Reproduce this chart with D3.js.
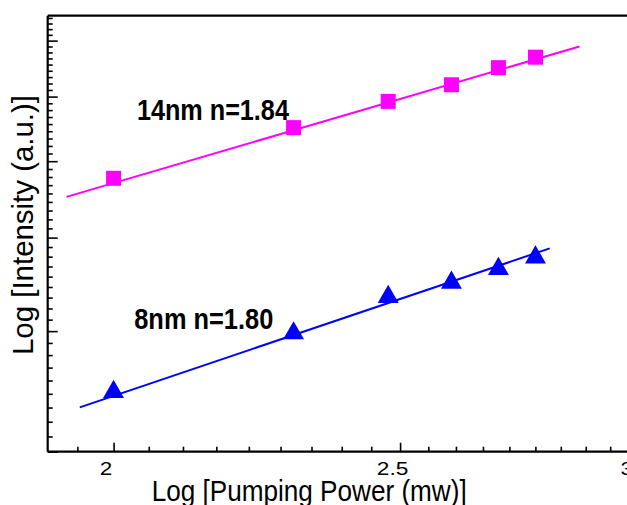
<!DOCTYPE html>
<html>
<head>
<meta charset="utf-8">
<script src="https://cdn.jsdelivr.net/npm/d3@7"></script>
<style>
  html, body { margin: 0; padding: 0; background: #fff; overflow: hidden; }
  svg { display: block; }
  text { font-family: Arial, "Liberation Sans", Helvetica, sans-serif; fill: #000; }
</style>
</head>
<body>
<svg id="chart" width="627" height="505"></svg>
<script>
// ---- data ----
const powerLog = [2.000, 2.301, 2.477, 2.602, 2.699, 2.778];   // log10 of 100..600 mW
const intensity14nm = [5.76, 6.50, 6.92, 7.20, 7.50, 7.69];
const intensity8nm  = [3.46, 3.98, 4.34, 4.49, 4.64, 4.77];
const fitX14 = [1.928, 2.875];
const fitY14 = [5.51, 7.89];
const fitX8  = [1.948, 2.809];
const fitY8  = [3.335, 4.873];
const xMajorTicks = [2, 2.5, 3];
const xTickLabels = ["2", "2.5", "3"];
const yMajorTicks = [3, 4, 5, 6, 7, 8];
const labels = ["14nm n=1.84", "8nm n=1.80"];
const labelPosX = [2.0367, 2.0325];
const labelPosY = [6.62, 4.017];

(function () {
// ---- scales ----
const svg = d3.select("#chart");
const mLeft = 47.7, mRight = 634.2, mTop = 15.7, mBottom = 451.7;
const x = d3.scaleLog().domain([1.9, 3]).range([mLeft, mRight]);
const y = d3.scaleLog().domain([3, 8.49]).range([mBottom, mTop]);

// minor ticks: 8 between majors (9 intervals)
function minors(majors, step, lo, hi) {
  const out = [];
  const first = majors[0] - step * 9, last = majors[majors.length - 1] + step * 9;
  for (let k = 0; first + k * step <= last + 1e-9; k++) {
    const r = Math.round((first + k * step) * 1e6) / 1e6;
    if (r >= lo && r <= hi && !majors.some(m => Math.abs(m - r) < 1e-6)) out.push(r);
  }
  return out;
}
const xMinor = minors(xMajorTicks, 0.5 / 9, 1.9, 3.0);
const yMinor = minors(yMajorTicks, 1 / 9, 3, 8.49);

// ---- axes ----
const gx = svg.append("g").attr("transform", `translate(0,${mBottom})`);
gx.append("g").call(d3.axisBottom(x).tickValues(xMinor).tickSize(-5).tickSizeOuter(0).tickFormat(""))
  .call(g => g.select(".domain").remove());
const gxMaj = gx.append("g").call(d3.axisBottom(x).tickValues(xMajorTicks).tickSize(-9).tickSizeOuter(0)
  .tickFormat((d, i) => xTickLabels[i]));
gxMaj.select(".domain").remove();
gx.selectAll("line").attr("stroke", "#000").attr("stroke-width", 1.6);
gxMaj.selectAll("text")
  .attr("y", 23).attr("dy", 0).attr("dx", -8)
  .style("font-size", "18px")
  .attr("textLength", (d, i) => [12.5, 31.5, 12.5][i])
  .attr("lengthAdjust", "spacingAndGlyphs");

const gy = svg.append("g").attr("transform", `translate(${mLeft},0)`);
gy.append("g").call(d3.axisLeft(y).tickValues(yMinor).tickSize(-5).tickSizeOuter(0).tickFormat(""))
  .call(g => g.select(".domain").remove());
gy.append("g").call(d3.axisLeft(y).tickValues(yMajorTicks).tickSize(-10).tickSizeOuter(0).tickFormat(""))
  .call(g => g.select(".domain").remove());
gy.selectAll("line").attr("stroke", "#000").attr("stroke-width", 1.6);

// frame lines (left, bottom, top)
const frame = svg.append("g").attr("stroke", "#000").attr("stroke-width", 2.2).attr("fill", "none");
frame.append("line").attr("x1", x(1.9)).attr("x2", x(1.9)).attr("y1", y(8.49)).attr("y2", y(3));
frame.append("line").attr("x1", x(1.9)).attr("x2", x(3)).attr("y1", y(3)).attr("y2", y(3));
frame.append("line").attr("x1", x(1.9)).attr("x2", x(3)).attr("y1", y(8.49)).attr("y2", y(8.49));

// ---- fit lines ----
const line = d3.line().x(d => x(d[0])).y(d => y(d[1]));
svg.append("path").datum(d3.zip(fitX14, fitY14)).attr("d", line)
  .attr("stroke", "#ff00ff").attr("stroke-width", 2).attr("fill", "none");
svg.append("path").datum(d3.zip(fitX8, fitY8)).attr("d", line)
  .attr("stroke", "#0000ff").attr("stroke-width", 2).attr("fill", "none");

// ---- markers ----
svg.append("g").selectAll("path").data(d3.zip(powerLog, intensity14nm)).join("path")
  .attr("d", d3.symbol(d3.symbolSquare, 15 * 15)())
  .attr("transform", d => `translate(${x(d[0])},${y(d[1])})`)
  .attr("fill", "#ff00ff");
svg.append("g").selectAll("path").data(d3.zip(powerLog, intensity8nm)).join("path")
  .attr("d", d3.symbol(d3.symbolTriangle, 190)())
  .attr("transform", d => `translate(${x(d[0])},${y(d[1])})`)
  .attr("fill", "#0000ff");

// ---- annotations ----
svg.append("g").selectAll("text").data(labels).join("text")
  .attr("x", (d, i) => x(labelPosX[i]))
  .attr("y", (d, i) => y(labelPosY[i]))
  .attr("textLength", (d, i) => [152, 139][i])
  .attr("lengthAdjust", "spacingAndGlyphs")
  .style("font-size", "29px").style("font-weight", "bold")
  .text(d => d);

// ---- axis titles ----
svg.append("text").attr("x", 151.7).attr("y", 501)
  .attr("textLength", 315).attr("lengthAdjust", "spacingAndGlyphs")
  .style("font-size", "30px")
  .text("Log [Pumping Power (mw)]");
svg.append("text")
  .attr("transform", "translate(33,355) rotate(-90)")
  .attr("textLength", 260).attr("lengthAdjust", "spacingAndGlyphs")
  .style("font-size", "29px")
  .text("Log [Intensity (a.u.)]");
})();
</script>
</body>
</html>
